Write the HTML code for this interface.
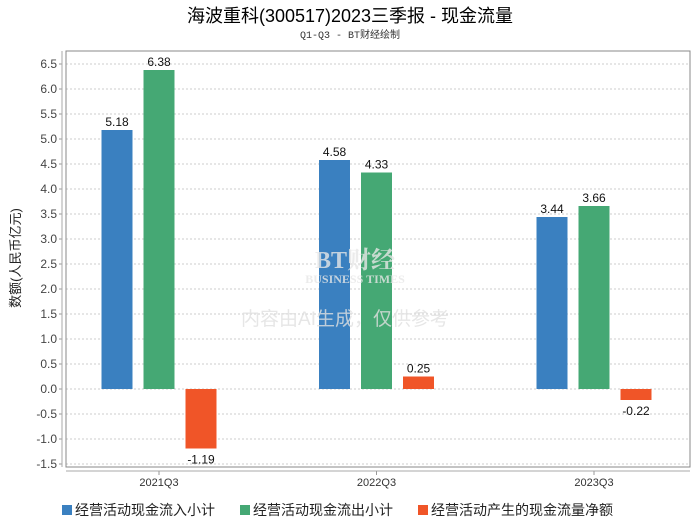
<!DOCTYPE html>
<html><head><meta charset="utf-8"><style>
body{margin:0;background:#fff;font-family:"Liberation Sans","Noto Sans CJK SC",sans-serif}
</style></head><body>
<svg width="700" height="524" xmlns="http://www.w3.org/2000/svg" id="c">
<text x="350" y="22" text-anchor="middle" font-size="18" fill="#000" font-family="Liberation Sans,Noto Sans CJK SC,sans-serif">海波重科(300517)2023三季报 - 现金流量</text>
<text x="350" y="38" text-anchor="middle" font-size="10" fill="#333" font-family="Liberation Mono,Noto Sans CJK SC,monospace">Q1-Q3 - BT财经绘制</text>
<g id="plot"></g>
<text x="355" y="268" text-anchor="middle" font-size="24" fill="#e6e6e6" fill-opacity="0.8" font-weight="bold" font-family="Liberation Serif,Noto Serif CJK SC,serif">BT财经</text>
<text x="355" y="283" text-anchor="middle" font-size="12" fill="#e6e6e6" fill-opacity="0.8" font-weight="bold" font-family="Liberation Serif,serif">BUSINESS TIMES</text>
<text x="345" y="325" text-anchor="middle" font-size="19" fill="#e0e0e0" fill-opacity="0.8" font-family="Liberation Sans,Noto Sans CJK SC,sans-serif">内容由AI生成，仅供参考</text>
<text transform="translate(20,258) rotate(-90)" text-anchor="middle" font-size="13" fill="#222" font-family="Liberation Sans,Noto Sans CJK SC,sans-serif">数额(人民币亿元)</text>
<g font-size="14" font-family="Liberation Sans,Noto Sans CJK SC,sans-serif" fill="#222">
<rect x="62" y="505" width="10" height="10" fill="#3a80c0"/>
<text x="75" y="515">经营活动现金流入小计</text>
<rect x="240" y="505" width="10" height="10" fill="#45a874"/>
<text x="253" y="515">经营活动现金流出小计</text>
<rect x="418" y="505" width="10" height="10" fill="#f05528"/>
<text x="431" y="515">经营活动产生的现金流量净额</text>
</g>
</svg>
<script>
const categories=["2021Q3","2022Q3","2023Q3"];
const inflow=[5.18,4.58,3.44];
const outflow=[6.38,4.33,3.66];
const netflow=[-1.19,0.25,-0.22];
const yTicks=[-1.5,-1.0,-0.5,0.0,0.5,1.0,1.5,2.0,2.5,3.0,3.5,4.0,4.5,5.0,5.5,6.0,6.5];
const NS="http://www.w3.org/2000/svg";
const g=document.getElementById('plot');
const L=66,R=690,T=51,B=467;
const y=v=>389-v*50;
const xc=i=>159+i*217.5;
function mk(t,a){const e=document.createElementNS(NS,t);for(const k in a)e.setAttribute(k,a[k]);g.appendChild(e);return e;}
yTicks.forEach(v=>{
  const l=mk('line',{x1:L,x2:R,y1:y(v),y2:y(v),stroke:'#ccc','stroke-dasharray':'2,2'});
  
  
  const t=mk('text',{x:57,y:y(v)+4,'text-anchor':'end','font-size':12,fill:'#444'});
  t.textContent=v.toFixed(1);
  
  
  mk('line',{x1:59,x2:62,y1:y(v),y2:y(v),stroke:'#999'});
});
const fr=mk('rect',{x:L,y:T,width:R-L,height:B-T,fill:'none',stroke:'#888'});


const ya=mk('line',{x1:62,x2:62,y1:T,y2:B,stroke:'#aaa'});


const xa=mk('line',{x1:L,x2:R,y1:471,y2:471,stroke:'#aaa'});


const series=[[inflow,'#3a80c0','inflow'],[outflow,'#45a874','outflow'],[netflow,'#f05528','net']];
categories.forEach((c,i)=>{
  mk('line',{x1:xc(i),x2:xc(i),y1:471,y2:475,stroke:'#999'});
  const t=mk('text',{x:xc(i),y:486,'text-anchor':'middle','font-size':11,fill:'#333'});
  t.textContent=c;
  
  
  series.forEach((s,j)=>{
    const v=s[0][i];const cx=xc(i)+(j-1)*42;
    const top=Math.min(y(v),y(0)),h=Math.abs(y(v)-y(0));
    const r=mk('rect',{x:cx-15.5,y:top,width:31,height:h,fill:s[1]});
    
    
    const lt=mk('text',{x:cx,y:v>=0?y(v)-4:y(v)+15,'text-anchor':'middle','font-size':12,fill:'#111'});
    lt.textContent=v.toFixed(2);
    
    
  });
});
</script>
</body></html>
